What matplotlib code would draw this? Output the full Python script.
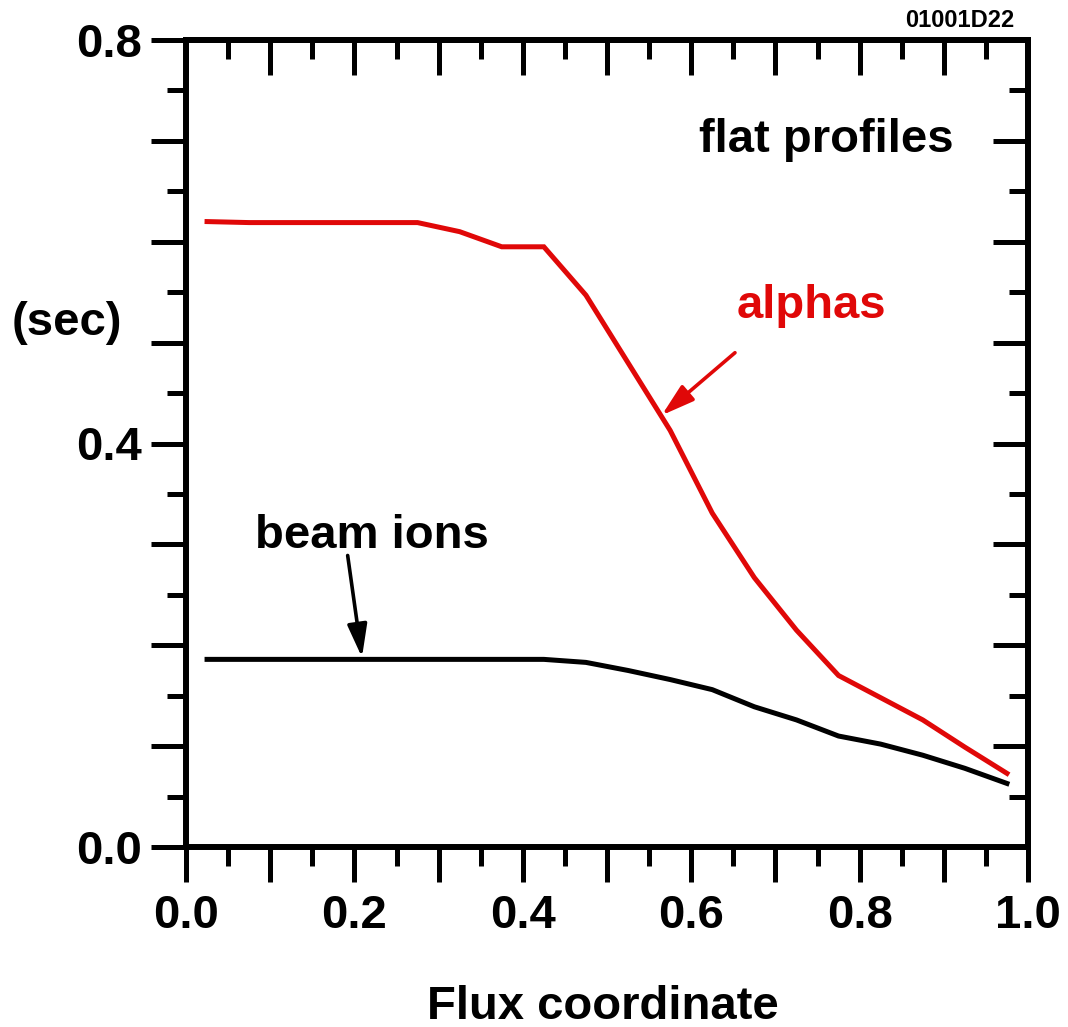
import matplotlib
matplotlib.use("Agg")
import matplotlib.pyplot as plt
from matplotlib.ticker import FixedLocator, FuncFormatter

plt.rcParams['font.family'] = ['Liberation Sans', 'DejaVu Sans']
plt.rcParams['font.weight'] = 'bold'

# Data
flux = [0.025, 0.075, 0.125, 0.175, 0.225, 0.275, 0.325, 0.375, 0.425, 0.475,
        0.525, 0.575, 0.625, 0.675, 0.725, 0.775, 0.825, 0.875, 0.925, 0.975]
alphas = [0.620, 0.619, 0.619, 0.619, 0.619, 0.619, 0.610, 0.595, 0.595, 0.547,
          0.480, 0.413, 0.331, 0.267, 0.215, 0.170, 0.148, 0.126, 0.099, 0.073]
beam_ions = [0.186, 0.186, 0.186, 0.186, 0.186, 0.186, 0.186, 0.186, 0.186, 0.183,
             0.175, 0.166, 0.156, 0.139, 0.126, 0.110, 0.102, 0.091, 0.078, 0.063]
x_tick_labels = ['0.0', '0.2', '0.4', '0.6', '0.8', '1.0']
y_tick_labels = ['0.0', '0.4', '0.8']

RED = '#e00808'
FS = 34

W, H = 1068, 1027
fig = plt.figure(figsize=(W / 100, H / 100), dpi=100)
L, R, T, B = 186, 1028, 40, 847
ax = fig.add_axes([L / W, 1 - B / H, (R - L) / W, (B - T) / H])

ax.plot(flux, alphas, color=RED, lw=3.6, solid_joinstyle='miter')
ax.plot(flux, beam_ions, color='black', lw=3.6, solid_joinstyle='miter')

ax.set_xlim(0, 1)
ax.set_ylim(0, 0.8)

for s in ax.spines.values():
    s.set_linewidth(4.3)

# ticks
xmaj = [i / 10 for i in range(11)]
xmin = [i / 20 for i in range(1, 20, 2)]
ymaj = [i / 10 for i in range(9)]
ymin = [i / 20 for i in range(1, 16, 2)]
ax.xaxis.set_major_locator(FixedLocator(xmaj))
ax.xaxis.set_minor_locator(FixedLocator(xmin))
ax.yaxis.set_major_locator(FixedLocator(ymaj))
ax.yaxis.set_minor_locator(FixedLocator(ymin))

xl = {round(float(s), 1): s for s in x_tick_labels}
yl = {round(float(s), 1): s for s in y_tick_labels}
ax.xaxis.set_major_formatter(FuncFormatter(lambda v, p: xl.get(round(v, 1), '')))
ax.yaxis.set_major_formatter(FuncFormatter(lambda v, p: yl.get(round(v, 1), '')))

ax.tick_params(axis='both', which='major', length=25, width=3.6, labelsize=FS, pad=7)
ax.tick_params(axis='x', which='major', pad=9)
ax.tick_params(axis='both', which='minor', length=13.5, width=3.6)
ax.tick_params(axis='x', which='both', bottom=True, top=False, direction='out')
ax.tick_params(axis='y', which='both', left=True, right=False, direction='out')

# inward ticks on top and right
axt = ax.secondary_xaxis('top')
axt.xaxis.set_major_locator(FixedLocator(xmaj))
axt.xaxis.set_minor_locator(FixedLocator(xmin))
axt.tick_params(which='major', direction='in', length=25, width=3.6, labeltop=False)
axt.tick_params(which='minor', direction='in', length=13.5, width=3.6)
axt.spines['top'].set_linewidth(4.3)
axr = ax.secondary_yaxis('right')
axr.yaxis.set_major_locator(FixedLocator(ymaj))
axr.yaxis.set_minor_locator(FixedLocator(ymin))
axr.tick_params(which='major', direction='in', length=25, width=3.6, labelright=False)
axr.tick_params(which='minor', direction='in', length=13.5, width=3.6)
axr.spines['right'].set_linewidth(4.3)

for lab in ax.get_xticklabels() + ax.get_yticklabels():
    lab.set_fontweight('bold')

ax.set_xlabel('Flux coordinate', fontsize=FS, fontweight='bold', va='top')
ax.xaxis.set_label_coords(0.495, -0.171)
ax.set_ylabel('(sec)', fontsize=FS, fontweight='bold', rotation=0, ha='center', va='center')
ax.yaxis.set_label_coords(-0.141, 0.649)

ax.text(0.761, 0.689, 'flat profiles', fontsize=FS, fontweight='bold', ha='center', va='baseline')
ax.text(0.743, 0.524, 'alphas', fontsize=FS, fontweight='bold', color=RED, ha='center', va='baseline')
ax.text(0.221, 0.296, 'beam ions', fontsize=FS, fontweight='bold', ha='center', va='baseline')

ax.annotate('', xy=(0.565, 0.428), xytext=(0.652, 0.490),
            arrowprops=dict(arrowstyle='-|>,head_length=2.0,head_width=0.6', color=RED, lw=2.6,
                            shrinkA=0, shrinkB=0))
ax.annotate('', xy=(0.209, 0.188), xytext=(0.192, 0.289),
            arrowprops=dict(arrowstyle='-|>,head_length=2.0,head_width=0.6', color='black', lw=2.6,
                            shrinkA=0, shrinkB=0))

fig.text(960 / W, 1 - 27 / H, '01001D22', fontsize=17, fontweight='bold', ha='center', va='baseline')

fig.savefig('out.png', dpi=100)
